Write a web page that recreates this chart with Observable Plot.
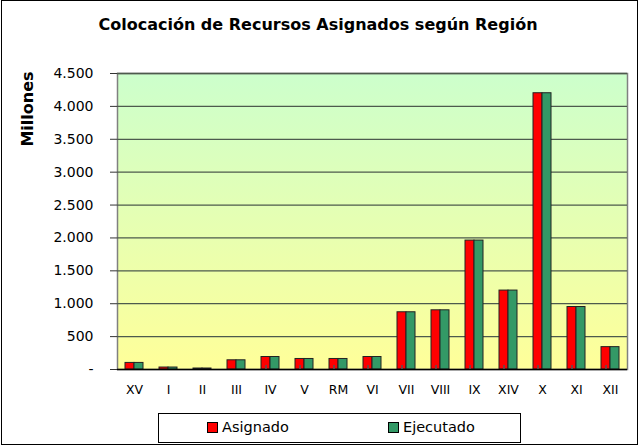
<!DOCTYPE html>
<html>
<head>
<meta charset="utf-8">
<script src="https://cdn.jsdelivr.net/npm/d3@7"></script>
<script src="https://cdn.jsdelivr.net/npm/@observablehq/plot@0.6"></script>
<style>
  html, body { margin: 0; padding: 0; background: #fff; }
  #wrap { position: relative; width: 639px; height: 446px; font-family: "DejaVu Sans", Verdana, sans-serif; overflow: hidden; }
  #border { position: absolute; left: 1px; top: 0; width: 635px; height: 443px; border: 1px solid #000; pointer-events: none; }
  #title { position: absolute; left: 0; top: 15px; width: 636px; text-align: center; font-weight: bold; font-size: 16px; color: #000; }
  #ylabel { position: absolute; left: 27px; top: 109px; transform: translate(-50%, -50%) rotate(-90deg); font-weight: bold; font-size: 16px; white-space: nowrap; }
  #legend { position: absolute; left: 158px; top: 413px; width: 361px; height: 28px; border: 1px solid #000; box-sizing: content-box; font-size: 14.5px; }
  .item { position: absolute; top: 5px; display: flex; align-items: center; }
  .sw { width: 9px; height: 9px; border: 1px solid #000; margin-right: 4px; }
  svg { position: absolute; left: 0; top: 0; }
</style>
</head>
<body>
<div id="wrap">
  <div id="title">Colocación de Recursos Asignados según Región</div>
  <div id="ylabel">Millones</div>
  <div id="legend">
    <div class="item" style="left:48px"><div class="sw" style="background:#FF0000"></div>Asignado</div>
    <div class="item" style="left:229px"><div class="sw" style="background:#339966"></div>Ejecutado</div>
  </div>
  <div id="border"></div>
</div>
<script>
const regions = ["XV","I","II","III","IV","V","RM","VI","VII","VIII","IX","XIV","X","XI","XII"];
const asignado = [100, 30, 15, 140, 190, 160, 160, 190, 870, 900, 1960, 1200, 4200, 950, 340];
const ejecutado = [100, 30, 15, 140, 190, 160, 160, 190, 870, 900, 1960, 1200, 4200, 950, 340];
const series = ["Asignado", "Ejecutado"];
const yTicks = [0, 500, 1000, 1500, 2000, 2500, 3000, 3500, 4000, 4500];

const data = regions.flatMap((r, i) => [
  {region: r, serie: series[0], value: asignado[i]},
  {region: r, serie: series[1], value: ejecutado[i]}
]);

const fmt = d => d === 0 ? "-" : d3.format(",")(d).replace(/,/g, ".");

const chart = Plot.plot({
  width: 639,
  height: 446,
  marginLeft: 115,
  marginRight: 10,
  marginTop: 73,
  marginBottom: 77,
  style: {fontFamily: "DejaVu Sans, Verdana, sans-serif", background: "transparent", overflow: "visible"},
  fx: {domain: regions, paddingInner: 0, paddingOuter: 0, label: null, axis: null},
  x: {domain: series, paddingInner: 0, paddingOuter: 0.72, axis: null},
  y: {domain: [0, 4500], label: null, axis: null},
  color: {domain: series, range: ["#FF0000", "#339966"]},
  marks: [
    Plot.frame({facet: "super", fill: "url(#bg)"}),
    Plot.frame({facet: "super", stroke: "#808080", strokeWidth: 1.5}),
    Plot.ruleY(yTicks.slice(1), {stroke: "#4d5a4d", strokeWidth: 1.3}),
    Plot.barY(data, {fx: "region", x: "serie", y: "value", fill: "serie", stroke: "#222", strokeWidth: 1}),
    Plot.ruleY([0], {stroke: "#000", strokeWidth: 1.5}),
    Plot.axisY({ticks: yTicks, tickSize: 7, tickPadding: 17, tickFormat: fmt, fontSize: 14, stroke: "#333", label: null}),
    Plot.axisFx({anchor: "bottom", tickSize: 0, tickPadding: 16, fontSize: 12.5, label: null})
  ]
});

d3.select(chart).insert("defs", ":first-child").html(
  '<linearGradient id="bg" x1="0" y1="0" x2="0" y2="1">' +
  '<stop offset="0" stop-color="#CCFFCC"/><stop offset="1" stop-color="#FFFF99"/></linearGradient>'
);

// inside tick marks at category boundaries along the x axis
const fx = chart.scale("fx");
const y = chart.scale("y");
const y0 = y.apply(0);
const g = d3.select(chart).append("g").attr("stroke", "#555").attr("stroke-width", 1.5);
regions.slice(1).forEach(r => {
  const xv = fx.apply(r) + 115;
  g.append("line").attr("x1", xv).attr("x2", xv).attr("y1", y0 - 4).attr("y2", y0);
});

document.getElementById("wrap").insertBefore(chart, document.getElementById("title"));
</script>
</body>
</html>
